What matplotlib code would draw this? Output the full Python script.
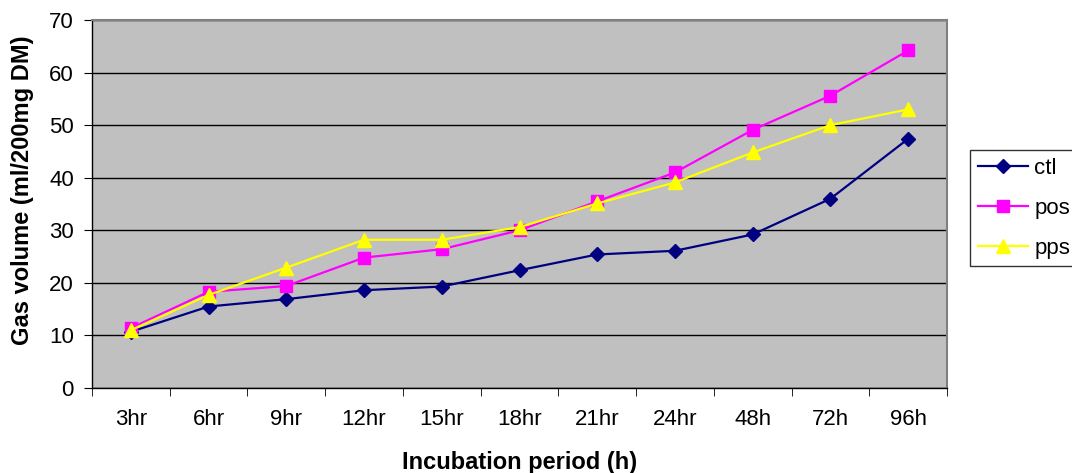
import matplotlib.pyplot as plt
import numpy as np

plt.rcParams['font.family'] = ['Liberation Sans', 'DejaVu Sans']

# incubation periods and gas volumes
periods = ['3hr', '6hr', '9hr', '12hr', '15hr', '18hr', '21hr', '24hr', '48h', '72h', '96h']
ctl = [10.7, 15.5, 16.9, 18.6, 19.3, 22.4, 25.4, 26.1, 29.2, 36.0, 47.4]
pos = [11.4, 18.3, 19.4, 24.8, 26.4, 30.0, 35.5, 41.0, 49.1, 55.6, 64.2]
pps = [11.0, 17.7, 22.9, 28.2, 28.2, 30.6, 35.1, 39.1, 44.8, 50.0, 53.0]

fig = plt.figure(figsize=(10.72, 4.73), dpi=100)
ax = fig.add_axes([92 / 1072, 85 / 473, 855 / 1072, 368 / 473])
ax.set_facecolor('#C0C0C0')

x = np.arange(len(periods))
ax.plot(x, ctl, color='#000080', marker='D', markersize=7.5, lw=1.6, label='ctl', zorder=3)
ax.plot(x, pos, color='#FF00FF', marker='s', markersize=8, lw=1.6, label='pos', zorder=3)
ax.plot(x, pps, color='#FFFF00', marker='^', markersize=10, lw=1.6, label='pps', zorder=3)

ax.set_xlim(-0.5, len(periods) - 0.5)
ax.set_ylim(0, 70)
ax.set_yticks(range(0, 71, 10))
ax.yaxis.grid(True, color='black', lw=1)
ax.set_axisbelow(True)

ax.set_xticks(x)
ax.set_xticklabels(periods)
ax.set_xticks(np.arange(-0.5, len(periods)), minor=True)
ax.tick_params(axis='x', which='major', length=0, pad=15, labelsize=16)
ax.tick_params(axis='x', which='minor', length=6, direction='out', color='black')
ax.tick_params(axis='y', length=6, direction='out', labelsize=16, pad=7)

for side in ['top', 'right']:
    ax.spines[side].set_color('#808080')
    ax.spines[side].set_linewidth(1.5)
for side in ['left', 'bottom']:
    ax.spines[side].set_color('black')
    ax.spines[side].set_linewidth(1)

ax.set_xlabel('Incubation period (h)', fontsize=17, fontweight='bold', labelpad=15)
ax.set_ylabel('Gas volume (ml/200mg DM)', fontsize=17, fontweight='bold')
ax.yaxis.set_label_coords(-0.068, 0.538)

leg = ax.legend(loc='upper left', bbox_to_anchor=(970 / 1072, 1 - 150 / 473), bbox_transform=fig.transFigure,
                fontsize=16, frameon=True, fancybox=False, edgecolor='black', borderaxespad=0,
                handlelength=2.25, labelspacing=0.85, handletextpad=0.3, borderpad=0.35)
leg.get_frame().set_linewidth(1)

fig.savefig('out.png', dpi=100)
